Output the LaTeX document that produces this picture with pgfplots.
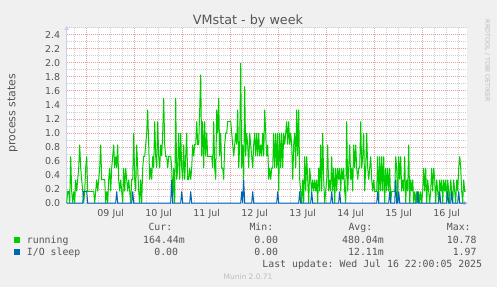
\documentclass[border=0pt]{standalone}
\usepackage{fontspec}
\setmainfont{DejaVu Sans}
\setmonofont{DejaVu Sans Mono}
\usepackage{pgfplots}
\pgfplotsset{compat=1.18}
\usetikzlibrary{arrows.meta}
\definecolor{bgc}{HTML}{F0F0F0}
\definecolor{txt}{HTML}{555555}
\definecolor{run}{HTML}{00CC00}
\definecolor{io}{HTML}{0066B3}
\definecolor{axc}{HTML}{C8D0F2}
\definecolor{mgr}{HTML}{EBA0A0}
\definecolor{ngr}{HTML}{CFCFCF}
\definecolor{faint}{HTML}{BDBDBD}
\newcommand{\mono}{\ttfamily\fontsize{9.9}{10}\selectfont}
\begin{document}
\begin{tikzpicture}[x=1bp,y=1bp]
\fill[bgc] (0,0) rectangle (497,287);
\useasboundingbox (0,0) rectangle (497,287);
\begin{axis}[
  at={(66.7bp,84bp)}, anchor=south west, scale only axis,
  width=400bp, height=175bp,
  xmin=0, xmax=400, ymin=0, ymax=2.5,
  clip=false,
  axis background/.style={fill=white},
  axis lines=left,
  axis line style={draw=axc, line width=1bp},
  x axis line style={-{Triangle[length=4bp,width=5bp]}, shorten >=-1bp},
  y axis line style={-{Triangle[length=4bp,width=5bp]}, shorten >=-2bp},
  major tick length=0pt, minor tick length=0pt,
  xmajorgrids=false, xminorgrids=true, ymajorgrids=true, yminorgrids=true,
  major grid style={draw=mgr, line width=1bp, dash pattern=on 1bp off 1bp},
  minor grid style={draw=ngr, line width=1bp, dash pattern=on 1bp off 1bp},
  xtick={44,92,140,188,236,284,332,380},
  xticklabels={09 Jul,10 Jul,11 Jul,12 Jul,13 Jul,14 Jul,15 Jul,16 Jul},
  minor xtick={7.3,19.3,31.3,43.3,55.3,67.3,79.3,91.3,103.3,115.3,127.3,139.3,151.3,163.3,175.3,187.3,199.3,211.3,223.3,235.3,247.3,259.3,271.3,283.3,295.3,307.3,319.3,331.3,343.3,355.3,367.3,379.3,391.3},
  extra x ticks={19.3,67.3,115.3,163.3,211.3,259.3,307.3,355.3},
  extra x tick labels={},
  extra x tick style={xmajorgrids=true, major tick length=0pt},
  ytick={0,0.2,0.4,0.6,0.8,1.0,1.2,1.4,1.6,1.8,2.0,2.2,2.4},
  yticklabels={0.0,0.2,0.4,0.6,0.8,1.0,1.2,1.4,1.6,1.8,2.0,2.2,2.4},
  minor ytick={0.1,0.3,0.5,0.7,0.9,1.1,1.3,1.5,1.7,1.9,2.1,2.3,2.5},
  ticklabel style={font=\fontsize{9.5}{9.5}\selectfont, text=txt},
  xticklabel style={anchor=base, inner sep=0pt, yshift=-13.7bp},
  yticklabel style={anchor=east, inner sep=0pt, xshift=-6.4bp},
]
\addplot[run, line width=1bp] coordinates {
(0,0)(1,.167)(2,.167)(3,0)(4,.667)(5,.167)(6,0)(7,.167)(8,0)(9,.333)
(10,.167)(11,.333)(12,.5)(13,.833)(14,.5)(15,.333)(16,.167)(17,0)(18,.167)(19,.5)
(20,.667)(21,.167)(22,.167)(23,.167)(24,.167)(25,.167)(26,.167)(27,.167)(28,0)(29,.167)
(30,.333)(31,.167)(32,.333)(33,.5)(34,.833)(35,.333)(36,.333)(37,.333)(38,.333)(39,0)
(40,.167)(41,0)(42,.333)(43,.5)(44,.167)(45,.5)(46,.667)(47,.833)(48,.5)(49,.667)
(50,.5)(51,.833)(52,.333)(53,.167)(54,.333)(55,.167)(56,0)(57,.5)(58,.167)(59,.5)
(60,.333)(61,.167)(62,.333)(63,.167)(64,0)(65,.333)(66,.333)(67,1)(68,.333)(69,.167)
(70,.833)(71,.5)(72,.167)(73,0)(74,.333)(75,0)(76,.5)(77,.667)(78,.667)(79,.833)
(80,1)(81,1.333)(82,.833)(83,.333)(84,.5)(85,.333)(86,.667)(87,.5)(88,1.167)(89,.667)
(90,.5)(91,1.167)(92,.667)(93,.5)(94,.833)(95,.667)(96,1)(97,1.5)(98,.833)(99,.667)
(100,.667)(101,.5)(102,.667)(103,.667)(104,.667)(105,.5)(106,0)(107,.5)(108,0)(109,1.5)
(110,.333)(111,.5)(112,1)(113,.333)(114,1)(115,.5)(116,.333)(117,.833)(118,.333)(119,.667)
(120,1)(121,.333)(122,.333)(123,.5)(124,.333)(125,.5)(126,.833)(127,.667)(128,.833)(129,.833)
(130,1.167)(131,.833)(132,.833)(133,1.333)(134,1.833)(135,.667)(136,1.167)(137,.5)(138,1.167)(139,.667)
(140,1)(141,.667)(142,.667)(143,.667)(144,.667)(145,.667)(146,.5)(147,1.167)(148,.5)(149,.333)
(150,1.333)(151,1)(152,1.5)(153,.667)(154,1)(155,.5)(156,.5)(157,.333)(158,.833)(159,1)
(160,1)(161,1.167)(162,1.167)(163,1.167)(164,1.167)(165,1)(166,.833)(167,.667)(168,.833)(169,1)
(170,.833)(171,1.333)(172,.5)(173,.833)(174,2)(175,.5)(176,.833)(177,.333)(178,1.667)(179,.667)
(180,1)(181,.833)(182,.5)(183,1)(184,.833)(185,.667)(186,.5)(187,.833)(188,1)(189,.667)
(190,1)(191,.667)(192,1)(193,.667)(194,.833)(195,.667)(196,1)(197,.667)(198,1.333)(199,1)
(200,.667)(201,.833)(202,.333)(203,.5)(204,.333)(205,.5)(206,.5)(207,1)(208,.5)(209,1)
(210,.5)(211,1)(212,.167)(213,1)(214,.5)(215,1)(216,.5)(217,1)(218,.833)(219,1)
(220,1.167)(221,.833)(222,1.167)(223,.833)(224,1)(225,.833)(226,.333)(227,.833)(228,1)(229,.5)
(230,1.333)(231,.667)(232,1.333)(233,.333)(234,.167)(235,0)(236,.333)(237,0)(238,.667)(239,.167)
(240,.667)(241,.333)(242,0)(243,.5)(244,.333)(245,.167)(246,.333)(247,.167)(248,.333)(249,.167)
(250,.333)(251,0)(252,.5)(253,.167)(254,.833)(255,.167)(256,1)(257,.333)(258,0)(259,.167)
(260,.333)(261,.833)(262,.167)(263,.333)(264,.167)(265,.667)(266,.167)(267,.5)(268,0)(269,.5)
(270,.167)(271,.5)(272,.333)(273,.5)(274,.167)(275,.5)(276,.333)(277,.5)(278,.167)(279,0)
(280,1.167)(281,.167)(282,.5)(283,.833)(284,.333)(285,.5)(286,.167)(287,.833)(288,.5)(289,.833)
(290,.5)(291,.333)(292,.5)(293,.5)(294,1.167)(295,.5)(296,.667)(297,1)(298,.167)(299,.5)
(300,1)(301,.5)(302,.333)(303,.5)(304,.667)(305,.333)(306,.167)(307,.333)(308,.167)(309,.167)
(310,.167)(311,.667)(312,0)(313,.667)(314,.167)(315,.667)(316,.167)(317,.667)(318,0)(319,.5)
(320,.167)(321,.5)(322,.167)(323,.5)(324,0)(325,.167)(326,.167)(327,.167)(328,.167)(329,.667)
(330,.5)(331,0)(332,.667)(333,.333)(334,.667)(335,.167)(336,.333)(337,.167)(338,.667)(339,0)
(340,.333)(341,.167)(342,.833)(343,0)(344,.333)(345,.167)(346,.333)(347,0)(348,.167)(349,0)
(350,.167)(351,0)(352,.167)(353,0)(354,.167)(355,0)(356,.167)(357,.5)(358,.167)(359,.5)
(360,0)(361,.333)(362,.167)(363,0)(364,.167)(365,.5)(366,.167)(367,.5)(368,.333)(369,0)
(370,.333)(371,.167)(372,0)(373,.333)(374,.167)(375,.333)(376,0)(377,.333)(378,.167)(379,.333)
(380,0)(381,.333)(382,.167)(383,0)(384,.333)(385,.167)(386,0)(387,.333)(388,.167)(389,0)
(390,.333)(391,.167)(392,.5)(393,.667)(394,.5)(395,.167)(396,0)(397,.333)(398,.167)(399,.167)
};
\addplot[io, line width=1bp] coordinates {
(0,0)(16,0)(17,.167)(19,.167)(20,.167)(21,0)(49,0)(50,.167)(51,0)(65,0)(66,.167)(67,0)
(104,0)(105,.333)(106,0)(114,0)(115,.167)(116,0)(123,0)(124,.167)(125,0)
(174,0)(175,.167)(176,0)(177,.333)(178,0)(185,0)(186,.167)(187,0)
(210,0)(211,.167)(212,0)(232,0)(233,.167)(234,0)(244,0)(245,.167)(246,0)
(264,0)(265,.167)(266,0)(272,0)(273,.167)(274,0)(310,0)(311,.167)(312,0)
(322,0)(323,.167)(324,0)(328,0)(329,.333)(330,0)(331,0)(332,.167)(333,0)
(350,0)(351,.167)(352,0)(372,0)(373,.167)(374,0)(380,0)(381,.167)(382,0)
(384,0)(385,.167)(386,0)(391,0)(392,.167)(393,0)(399,0)
};
\end{axis}
% titles
\node[anchor=base, text=txt, inner sep=0pt] at (248,262.7) {\fontsize{12.8}{13}\selectfont VMstat - by week};
\node[anchor=base, rotate=90, text=txt, inner sep=0pt] at (15.3,173.7) {\fontsize{11}{11}\selectfont process states};
\node[anchor=center, rotate=-90, text=faint, inner sep=0pt] at (487.5,226) {\fontsize{6.4}{6.4}\selectfont RRDTOOL / TOBI OETIKER};
% legend
\node[anchor=base west, text=txt, inner sep=0pt] at (148.3,56.3) {\mono Cur:};
\node[anchor=base west, text=txt, inner sep=0pt] at (249.3,56.3) {\mono Min:};
\node[anchor=base west, text=txt, inner sep=0pt] at (348.3,56.3) {\mono Avg:};
\node[anchor=base west, text=txt, inner sep=0pt] at (446.7,56.3) {\mono Max:};
\node[anchor=south west, inner sep=0pt] at (14,43.7) {\textcolor{run}{\rule{6bp}{6bp}}};
\node[anchor=south west, inner sep=0pt] at (14,31.7) {\textcolor{io}{\rule{6bp}{6bp}}};
\node[anchor=base west, text=txt, inner sep=0pt] at (26.7,44) {\mono running};
\node[anchor=base west, text=txt, inner sep=0pt] at (26.7,32) {\mono I/O sleep};
\node[anchor=base east, text=txt, inner sep=0pt] at (185,44) {\mono 164.44m};
\node[anchor=base east, text=txt, inner sep=0pt] at (278.3,44) {\mono 0.00};
\node[anchor=base east, text=txt, inner sep=0pt] at (384,44) {\mono 480.04m};
\node[anchor=base east, text=txt, inner sep=0pt] at (476.7,44) {\mono 10.78};
\node[anchor=base east, text=txt, inner sep=0pt] at (178.3,32) {\mono 0.00};
\node[anchor=base east, text=txt, inner sep=0pt] at (278.3,32) {\mono 0.00};
\node[anchor=base east, text=txt, inner sep=0pt] at (384,32) {\mono 12.11m};
\node[anchor=base east, text=txt, inner sep=0pt] at (476.7,32) {\mono 1.97};
\node[anchor=base east, text=txt, inner sep=0pt] at (482.3,20) {\mono Last update: Wed Jul 16 22:00:05 2025};
\node[anchor=base, text=faint, inner sep=0pt] at (248,8) {\fontsize{7.5}{7.5}\selectfont Munin 2.0.71};
\end{tikzpicture}
\end{document}
